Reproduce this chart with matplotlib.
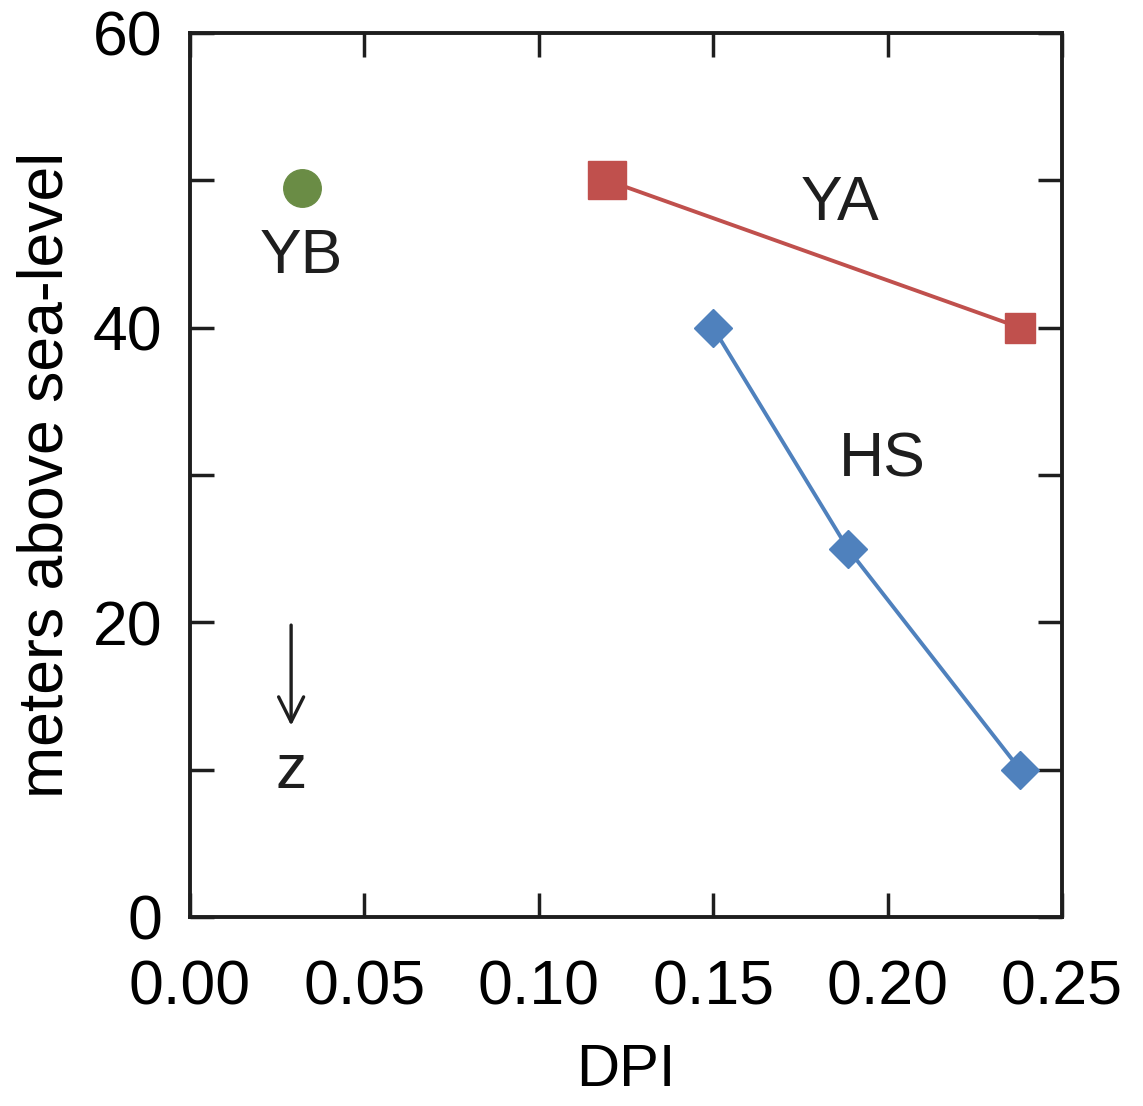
import matplotlib
matplotlib.use("Agg")
import matplotlib.pyplot as plt

plt.rcParams['font.family'] = ['Liberation Sans', 'DejaVu Sans']

# Data: DPI versus elevation (m above sea level)
ya_dpi = [0.1196, 0.238]
ya_elev = [50, 40]
hs_dpi = [0.150, 0.1886, 0.238]
hs_elev = [40, 25, 10]
yb_dpi = [0.032]
yb_elev = [49.5]

x_ticks = [0.00, 0.05, 0.10, 0.15, 0.20, 0.25]
y_ticks = [0, 10, 20, 30, 40, 50, 60]
y_labels = ['0', '', '20', '', '40', '', '60']

red = '#C0504D'
blue = '#4F81BD'
green = '#6A8C45'
ink = '#1e1e1e'

fig = plt.figure(figsize=(11.43, 11.06), dpi=100)
ax = fig.add_axes([0.1662, 0.1709, 0.7629, 0.7993])

ax.plot(ya_dpi, ya_elev, color=red, lw=2.8, zorder=2)
ax.plot(ya_dpi[:1], ya_elev[:1], 's', ms=27, color=red, mec=red, zorder=3)
ax.plot(ya_dpi[1:], ya_elev[1:], 's', ms=21, color=red, mec=red, zorder=3)
ax.plot(hs_dpi, hs_elev, color=blue, lw=2.8, marker='D', ms=19,
        mec=blue, mew=1, zorder=3)
ax.plot(yb_dpi, yb_elev, 'o', ms=27, color=green, mec=green, zorder=3)

ax.text(0.1863, 48.4, 'YA', fontsize=45, ha='center', va='center', color=ink)
ax.text(0.032, 44.8, 'YB', fontsize=45, ha='center', va='center', color=ink)
ax.text(0.1985, 31.0, 'HS', fontsize=45, ha='center', va='center', color=ink)
ax.text(0.029, 9.9, 'z', fontsize=45, ha='center', va='center', color=ink)
ax.annotate('', xy=(0.029, 12.8), xytext=(0.029, 20),
            arrowprops=dict(arrowstyle='->', color=ink, lw=2.4,
                            mutation_scale=45))

ax.set_xlim(0, 0.25)
ax.set_ylim(0, 60)
ax.set_xticks(x_ticks)
ax.set_xticklabels([f'{v:.2f}' for v in x_ticks])
ax.set_yticks(y_ticks)
ax.set_yticklabels(y_labels)

ax.tick_params(direction='in', length=17, width=2.5, color=ink,
               labelsize=45, top=True, right=True)
ax.tick_params(axis='x', pad=30)
ax.tick_params(axis='y', pad=20)
for s in ax.spines.values():
    s.set_linewidth(2.8)
    s.set_color(ink)

ax.set_xlabel('DPI', fontsize=43, labelpad=18)
ax.set_ylabel('meters above sea-level', fontsize=45, labelpad=12)

fig.savefig('out.png', dpi=100, facecolor='white')
